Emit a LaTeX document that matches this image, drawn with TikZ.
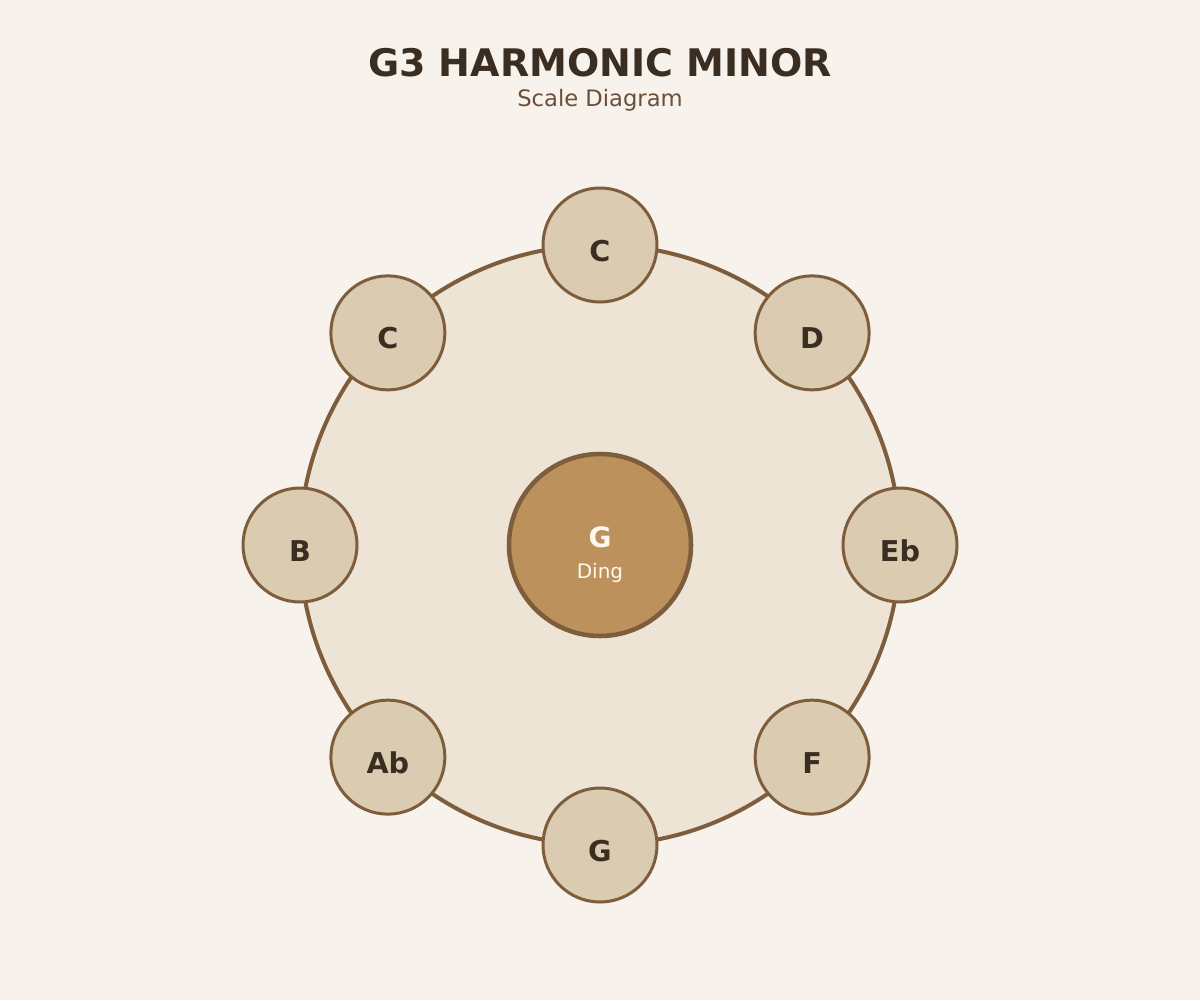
\documentclass[tikz,border=0pt]{standalone}
\usepackage{fontspec}
\setmainfont{DejaVu Sans}
\usetikzlibrary{positioning}

\definecolor{bgcol}{RGB}{247,242,236}
\definecolor{ringfill}{RGB}{237,228,214}
\definecolor{brownline}{RGB}{125,93,59}
\definecolor{notefill}{RGB}{219,203,176}
\definecolor{dingfill}{RGB}{188,145,92}
\definecolor{darktext}{RGB}{58,46,34}
\definecolor{subtext}{RGB}{107,79,56}
\definecolor{dingtext}{RGB}{255,248,238}

\tikzset{every picture/.style={line width=0.75pt}}
\tikzset{
  notecircle/.style={circle, draw=brownline, fill=notefill, line width=2.25pt, minimum size=85.5pt, inner sep=0pt},
  notename/.style={anchor=base, text=darktext, font=\fontsize{21.5}{22}\selectfont\bfseries, inner sep=0pt},
}

\begin{document}
\begin{tikzpicture}[x=0.75pt,y=0.75pt,yscale=-1,xscale=1]
% background
\fill [bgcol] (0,0) rectangle (1200,1000);
\useasboundingbox (0,0) rectangle (1200,1000);

% Title
\node [anchor=base, text=darktext, font=\fontsize{28.5}{30}\selectfont\bfseries, inner sep=0pt] (title) at (600,76) {G3 HARMONIC MINOR};
\node [anchor=base, text=subtext, font=\fontsize{17}{18}\selectfont, inner sep=0pt] (subtitle) at (600,106) {Scale Diagram};

% Ring
\node [circle, draw=brownline, fill=ringfill, line width=3pt, minimum size=450pt, inner sep=0pt] (ring) at (600,545) {};

% Ding
\node [circle, draw=brownline, fill=dingfill, line width=3.4pt, minimum size=136.5pt, inner sep=0pt] (ding) at (600,545) {};
\node [anchor=base, text=dingtext, font=\fontsize{21}{22}\selectfont\bfseries, inner sep=0pt] (dingnote) at (600,547) {G};
\node [anchor=base, text=dingtext, font=\fontsize{15}{16}\selectfont, inner sep=0pt] (dinglabel) at (600,578) {Ding};

% Tone fields
\node [notecircle] (top) at (600,245) {};
\node [notename] (topname) at ([yshift=12pt]top.center) {C};
\node [notecircle] (upright) at (812.13,332.87) {};
\node [notename] (uprightname) at ([yshift=12pt]upright.center) {D};
\node [notecircle] (right) at (900,545) {};
\node [notename] (rightname) at ([yshift=12pt]right.center) {Eb};
\node [notecircle] (lowright) at (812.13,757.13) {};
\node [notename] (lowrightname) at ([yshift=12pt]lowright.center) {F};
\node [notecircle] (bottom) at (600,845) {};
\node [notename] (bottomname) at ([yshift=12pt]bottom.center) {G};
\node [notecircle] (lowleft) at (387.87,757.13) {};
\node [notename] (lowleftname) at ([yshift=12pt]lowleft.center) {Ab};
\node [notecircle] (left) at (300,545) {};
\node [notename] (leftname) at ([yshift=12pt]left.center) {B};
\node [notecircle] (upleft) at (387.87,332.87) {};
\node [notename] (upleftname) at ([yshift=12pt]upleft.center) {C};

\end{tikzpicture}
\end{document}
